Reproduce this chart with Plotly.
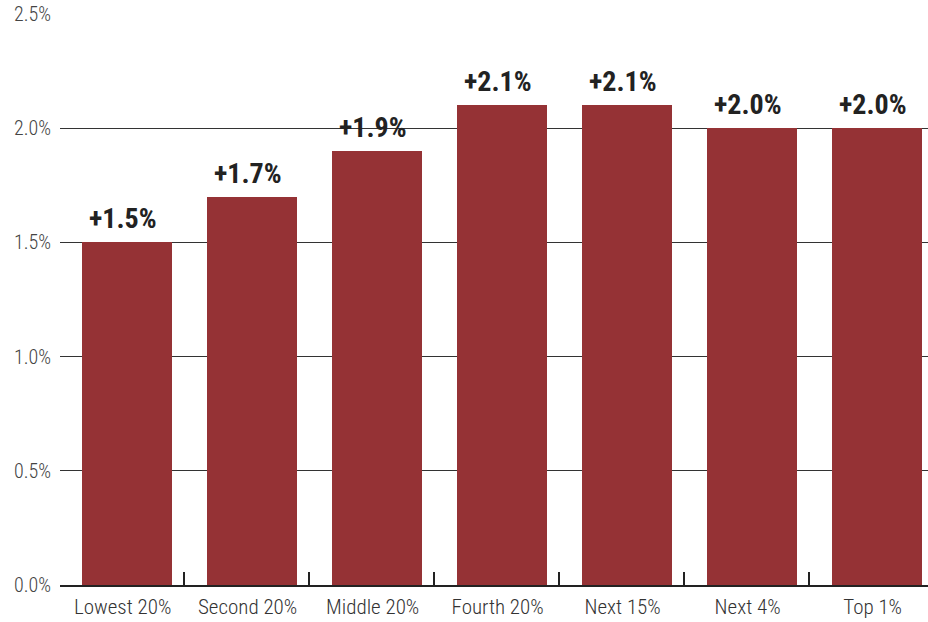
import plotly.graph_objects as go

# Income groups and average annual change
groups = ["Lowest 20%", "Second 20%", "Middle 20%", "Fourth 20%", "Next 15%", "Next 4%", "Top 1%"]
growth = [1.5, 1.7, 1.9, 2.1, 2.1, 2.0, 2.0]
y_ticks = [0, 0.5, 1.0, 1.5, 2.0, 2.5]
y_tick_text = ["0.0%", "0.5%", "1.0%", "1.5%", "2.0%", "2.5%"]

FONT = "Roboto Condensed, Liberation Sans Narrow, DejaVu Sans Condensed, Roboto"

positions = list(range(len(groups)))
label_positions = [p - 0.035 for p in positions]
dividers = [p + 0.456 for p in positions[:-1]]

fig = go.Figure(
    go.Bar(
        x=positions,
        y=growth,
        width=0.72,
        marker=dict(color="#953235", line=dict(width=0)),
        cliponaxis=False,
    )
)

# Value labels above each bar
for lp, v in zip(label_positions, growth):
    fig.add_annotation(
        x=lp,
        y=v,
        text=f"+{v:.1f}%",
        showarrow=False,
        yanchor="bottom",
        yshift=5,
        font=dict(family=FONT, size=28, color="#222222", weight="bold"),
    )

fig.update_layout(
    width=928,
    height=622,
    margin=dict(l=60, r=0, t=14, b=37),
    paper_bgcolor="white",
    plot_bgcolor="white",
    showlegend=False,
    bargap=0,
    font=dict(family=FONT, color="#333333"),
)

fig.update_xaxes(
    range=[-0.536, 6.408],
    tickmode="array",
    tickvals=label_positions,
    ticktext=groups,
    ticks="",
    showgrid=False,
    zeroline=False,
    showline=True,
    linecolor="#222222",
    linewidth=1.5,
    tickfont=dict(family=FONT, size=21, color="#333333", weight=300),
    ticklabelstandoff=2,
    minor=dict(
        tickmode="array",
        tickvals=dividers,
        ticks="inside",
        ticklen=13,
        tickwidth=1.5,
        tickcolor="#222222",
        showgrid=False,
    ),
)

fig.update_yaxes(
    range=[0, 2.5],
    tickmode="array",
    tickvals=y_ticks,
    ticktext=y_tick_text,
    showgrid=True,
    gridcolor="#333333",
    gridwidth=1,
    zeroline=False,
    showline=False,
    ticks="",
    tickfont=dict(family=FONT, size=20, color="#444444", weight=300),
    ticklabelstandoff=8,
)

fig.write_html("out.html")
